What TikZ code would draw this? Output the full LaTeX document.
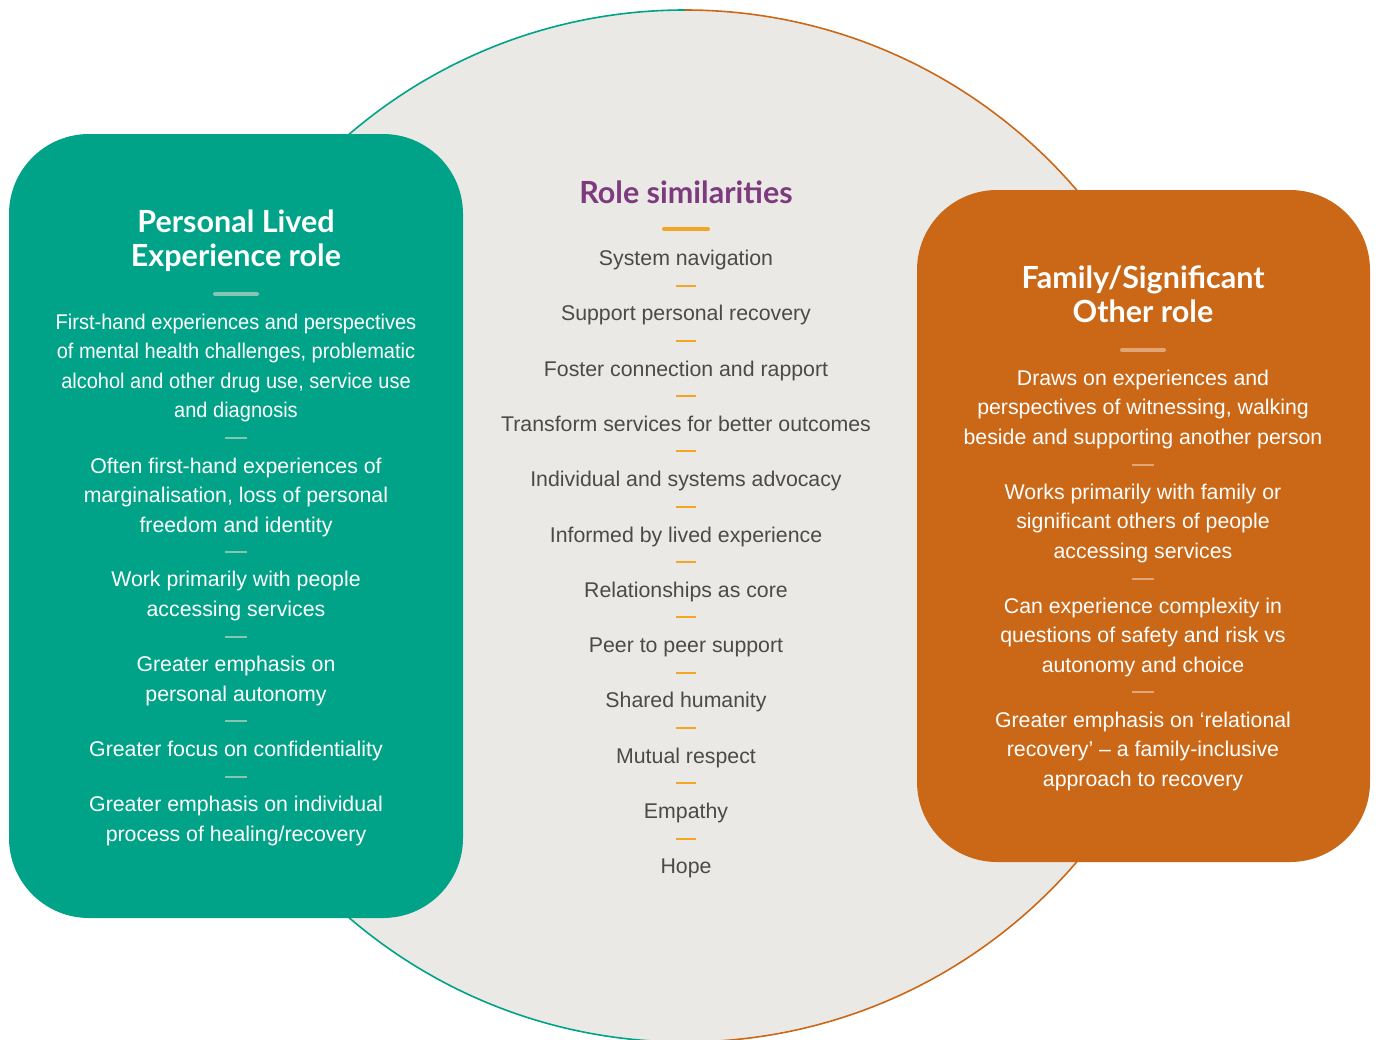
\documentclass[tikz,border=0pt]{standalone}
\usepackage{fontspec}
\setmainfont{Liberation Sans}
\newfontfamily\headfont{Lato}
\newfontfamily\narrowbody{Liberation Sans}[FakeStretch=0.94]
\definecolor{plteal}{HTML}{00A388}
\definecolor{plteallight}{HTML}{86C4B4}
\definecolor{fsorange}{HTML}{CA6818}
\definecolor{fsorangelight}{HTML}{E2A578}
\definecolor{simfill}{HTML}{EBE9E5}
\definecolor{simpurple}{HTML}{7D3A7E}
\definecolor{simyellow}{HTML}{F5A524}
\definecolor{simgray}{HTML}{4A4A4A}
\tikzset{
  roletitle/.style={align=center, text=white, font=\headfont\bfseries\fontsize{30.5}{34}\selectfont},
  roletext/.style={align=center, text=white, font=\fontsize{21.3}{29.5}\selectfont},
  simitem/.style={text=simgray, font=\fontsize{21.3}{24}\selectfont, text height=15pt, text depth=4pt},
  bigsep/.style={line width=4pt, line cap=round},
  smallsep/.style={line width=2pt},
}
\begin{document}
\begin{tikzpicture}[x=1pt, y=-1pt]
  \useasboundingbox (0, 0) rectangle (1378, 1039);

  % Similarities circle
  \fill[simfill] (685, 526) circle[radius=516pt];
  \draw[plteal, line width=1.6pt] (685, 10) arc[start angle=90, end angle=270, radius=516pt];
  \draw[fsorange, line width=1.6pt] (685, 10) arc[start angle=90, end angle=-90, radius=516pt];

  % Personal Lived Experience role
  \fill[plteal, rounded corners=80pt] (9, 134) rectangle (463, 918);
  \begin{scope}[shift={(236, 0)}]
    \node[roletitle] (pl-title) at (0, 241) {Personal Lived\\Experience role};
    \draw[plteallight, bigsep] (-21, 294) -- (21, 294);
    \node[roletext, font=\narrowbody\fontsize{21.3}{29.5}\selectfont] (pl-a) at (0, 368) {First-hand experiences and perspectives\\of mental health challenges, problematic\\alcohol and other drug use, service use\\and diagnosis};
    \draw[plteallight, smallsep] (-11, 438) -- (11, 438);
    \node[roletext] (pl-b) at (0, 497) {Often first-hand experiences of\\marginalisation, loss of personal\\freedom and identity};
    \draw[plteallight, smallsep] (-11, 552) -- (11, 552);
    \node[roletext] (pl-c) at (0, 596) {Work primarily with people\\accessing services};
    \draw[plteallight, smallsep] (-11, 637) -- (11, 637);
    \node[roletext] (pl-d) at (0, 681) {Greater emphasis on\\personal autonomy};
    \draw[plteallight, smallsep] (-11, 721) -- (11, 721);
    \node[roletext] (pl-e) at (0, 751) {Greater focus on confidentiality};
    \draw[plteallight, smallsep] (-11, 777) -- (11, 777);
    \node[roletext] (pl-f) at (0, 821) {Greater emphasis on individual\\process of healing/recovery};
  \end{scope}

  % Role similarities
  \node[text=simpurple, font=\headfont\bfseries\fontsize{30.5}{34}\selectfont] (sim-title) at (686, 192) {Role similarities};
  \draw[simyellow, bigsep] (664, 229) -- (708, 229);
  \foreach \txt [count=\i from 0] in {System navigation, Support personal recovery,
      Foster connection and rapport, Transform services for better outcomes,
      Individual and systems advocacy, Informed by lived experience,
      Relationships as core, Peer to peer support, Shared humanity,
      Mutual respect, Empathy, Hope}
    \node[simitem] (sim-\i) at (686, {260+55.3*\i}) {\txt};
  \foreach \i in {0,...,10}
    \draw[simyellow, smallsep] (676, {285.5+55.3*\i}) -- (696, {285.5+55.3*\i});

  % Family/Significant Other role
  \fill[fsorange, rounded corners=80pt] (917, 190) rectangle (1370, 862);
  \begin{scope}[shift={(1143, 0)}]
    \node[roletitle] (fs-title) at (0, 294) {Family/Significant\\Other role};
    \draw[fsorangelight, bigsep] (-21, 350) -- (21, 350);
    \node[roletext] (fs-a) at (0, 409) {Draws on experiences and\\perspectives of witnessing, walking\\beside and supporting another person};
    \draw[fsorangelight, smallsep] (-11, 465) -- (11, 465);
    \node[roletext] (fs-b) at (0, 523) {Works primarily with family or\\significant others of people\\accessing services};
    \draw[fsorangelight, smallsep] (-11, 579) -- (11, 579);
    \node[roletext] (fs-c) at (0, 637) {Can experience complexity in\\questions of safety and risk vs\\autonomy and choice};
    \draw[fsorangelight, smallsep] (-11, 692) -- (11, 692);
    \node[roletext] (fs-d) at (0, 751) {Greater emphasis on ‘relational\\recovery’ – a family-inclusive\\approach to recovery};
  \end{scope}
\end{tikzpicture}
\end{document}
